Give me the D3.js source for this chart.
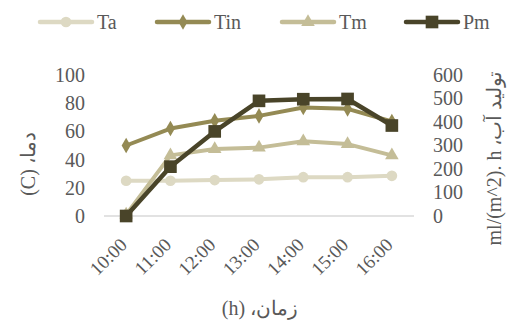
<!DOCTYPE html>
<html>
<head>
<meta charset="utf-8">
<script src="https://cdn.jsdelivr.net/npm/d3@7"></script>
<style>
  html, body { margin: 0; padding: 0; background: #fff; }
  svg { display: block; }
</style>
</head>
<body>
<svg id="chart" width="515" height="324"></svg>
<script>
// Hours of measurement
const categories = ["10:00", "11:00", "12:00", "13:00", "14:00", "15:00", "16:00"];
// Temperatures (C), left axis
const Ta  = [25, 25, 25.5, 26, 27.5, 27.5, 28.5];
const Tin = [50, 62, 67.5, 71, 77, 76, 67];
const Tm  = [1, 43, 47.5, 48.5, 53, 51, 43];
// Water production, right axis
const Pm  = [0, 210, 360, 490, 497, 498, 385];

const leftTicks  = [0, 20, 40, 60, 80, 100];
const rightTicks = [0, 100, 200, 300, 400, 500, 600];

const FONT = "Liberation Serif";
const TEXT = "#595959";

const svg = d3.select("#chart");

const plot = { left: 104, right: 414, top: 75, bottom: 216 };

const x = d3.scaleBand().domain(categories).range([plot.left, plot.right]).padding(0);
const cx = c => x(c) + x.bandwidth() / 2;
const yL = d3.scaleLinear().domain([0, 100]).range([plot.bottom, plot.top]);
const yR = d3.scaleLinear().domain([0, 600]).range([plot.bottom, plot.top]);

const series = [
  { name: "Ta",  values: Ta,  color: "#DDD9C3", y: yL, symbol: d3.symbolCircle,   size: 90,  width: 4 },
  { name: "Tin", values: Tin, color: "#948A54", y: yL, symbol: d3.symbolDiamond,  size: 70,  width: 4 },
  { name: "Tm",  values: Tm,  color: "#C4BD97", y: yL, symbol: d3.symbolTriangle, size: 80,  width: 4 },
  { name: "Pm",  values: Pm,  color: "#494429", y: yR, symbol: d3.symbolSquare,   size: 160, width: 4.5 }
];

function styleText(sel, size) {
  sel.attr("font-family", FONT).style("font-family", FONT)
     .style("font-size", size + "px").attr("fill", TEXT).style("fill", TEXT);
}

// Horizontal baseline
svg.append("line")
  .attr("x1", plot.left).attr("x2", plot.right)
  .attr("y1", plot.bottom).attr("y2", plot.bottom)
  .attr("stroke", "#D9D9D9").attr("stroke-width", 1.5);

// Left axis
const gL = svg.append("g")
  .attr("transform", `translate(${plot.left - 16},0)`)
  .call(d3.axisLeft(yL).tickValues(leftTicks).tickSize(0).tickPadding(3));
gL.attr("font-family", FONT);
gL.select(".domain").remove();
styleText(gL.selectAll("text"), 20);

// Right axis
const gR = svg.append("g")
  .attr("transform", `translate(${plot.right + 16},0)`)
  .call(d3.axisRight(yR).tickValues(rightTicks).tickSize(0).tickPadding(3));
gR.attr("font-family", FONT);
gR.select(".domain").remove();
styleText(gR.selectAll("text"), 20);

// Bottom axis, rotated hour labels
const gB = svg.append("g")
  .attr("transform", `translate(0,${plot.bottom})`)
  .call(d3.axisBottom(x).tickSize(0));
gB.attr("font-family", FONT);
gB.select(".domain").remove();
styleText(gB.selectAll("text"), 19);
gB.selectAll("text")
  .attr("text-anchor", "end")
  .attr("dy", "0")
  .attr("y", 0)
  .attr("transform", "translate(2,30) rotate(-45)");

// Lines and markers
series.forEach(s => {
  const line = d3.line().x((d, i) => cx(categories[i])).y(d => s.y(d));
  svg.append("path")
    .datum(s.values)
    .attr("d", line)
    .attr("fill", "none")
    .attr("stroke", s.color)
    .attr("stroke-width", s.width)
    .attr("stroke-linejoin", "round");
  svg.append("g").selectAll("path")
    .data(s.values)
    .join("path")
    .attr("d", d3.symbol().type(s.symbol).size(s.size))
    .attr("transform", (d, i) => `translate(${cx(categories[i])},${s.y(d)})`)
    .attr("fill", s.color);
});

// Legend
const legendX = [40, 157, 282, 406];
const legendY = 22;
series.forEach((s, i) => {
  const g = svg.append("g").attr("transform", `translate(${legendX[i]},${legendY})`);
  g.append("line").attr("x1", 0).attr("x2", 52).attr("y1", 0).attr("y2", 0)
    .attr("stroke", s.color).attr("stroke-width", 4.5).attr("stroke-linecap", "round");
  g.append("path").attr("d", d3.symbol().type(s.symbol).size(s.size)).attr("transform", "translate(26,0)")
    .attr("fill", s.color);
  g.append("text").attr("x", 57).attr("y", 7).call(styleText, 20).text(s.name);
});

// Axis titles
svg.append("text")
  .attr("transform", "translate(35,164) rotate(-90)")
  .attr("text-anchor", "middle")
  .attr("direction", "rtl")
  .call(styleText, 20)
  .text("دما، (C)");

svg.append("text")
  .attr("transform", "translate(501,158) rotate(-90)")
  .attr("text-anchor", "middle")
  .attr("direction", "rtl")
  .call(styleText, 20)
  .text("توليد آب، ml/(m^2). h");

svg.append("text")
  .attr("x", 260).attr("y", 315)
  .attr("text-anchor", "middle")
  .attr("direction", "rtl")
  .call(styleText, 20)
  .text("زمان، (h)");
</script>
</body>
</html>
